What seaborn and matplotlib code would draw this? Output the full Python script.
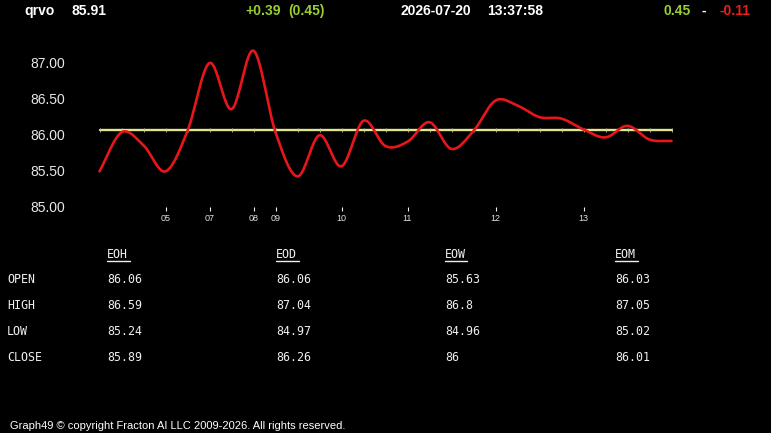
import numpy as np
import pandas as pd
import matplotlib
matplotlib.use("Agg")
import matplotlib.pyplot as plt
from matplotlib.lines import Line2D
import seaborn as sns

# ---------------- data ----------------
symbol = "qrvo"
last_price = "85.91"
change_abs = "+0.39"
change_pct = "(0.45)"
date_str = "2026-07-20"
time_str = "13:37:58"
range_hi = "0.45"
range_lo = "-0.11"

prices = [85.49, 86.03, 85.85, 85.49, 86.05, 86.99, 86.35, 87.16, 86.03,
          85.42, 85.99, 85.56, 86.19, 85.84, 85.90, 86.17, 85.80, 86.05,
          86.47, 86.40, 86.24, 86.22, 86.07, 85.96, 86.12, 85.93, 85.91]
ref_level = 86.06
hour_tick_idx = [3, 5, 7, 8, 11, 14, 18, 22]
hour_labels = ["05", "07", "08", "09", "10", "11", "12", "13"]
y_ticks = [85.0, 85.5, 86.0, 86.5, 87.0]
y_tick_labels = ["85.00", "85.50", "86.00", "86.50", "87.00"]

table_cols = ["EOH", "EOD", "EOW", "EOM"]
table_rows = ["OPEN", "HIGH", "LOW", "CLOSE"]
eoh = ["86.06", "86.59", "85.24", "85.89"]
eod = ["86.06", "87.04", "84.97", "86.26"]
eow = ["85.63", "86.8", "84.96", "86"]
eom = ["86.03", "87.05", "85.02", "86.01"]
footer = "Graph49 \u00a9 copyright Fracton AI LLC 2009-2026. All rights reserved."

# ---------------- style ----------------
sns.set_theme(style="dark", rc={"axes.facecolor": "black",
                                "figure.facecolor": "black",
                                "axes.grid": False})
plt.rcParams["font.family"] = ["Liberation Sans", "DejaVu Sans"]

W, H = 771, 433
fig = plt.figure(figsize=(W / 100, H / 100), dpi=100)


def px(x, y):
    return x / W, 1 - y / H


ax = fig.add_axes([99.5 / W, 1 - 206.7 / H, 572 / W, 144.4 / H])
ax.set_facecolor("black")

# smooth (Catmull-Rom) rendering of the price series
p = np.asarray(prices, dtype=float)
n = len(p)
idx = np.arange(n)
tang = np.empty(n)
tang[1:-1] = (p[2:] - p[:-2]) / 2
tang[0] = p[1] - p[0]
tang[-1] = p[-1] - p[-2]
xs, ys = [], []
for i in range(n - 1):
    t = np.linspace(0, 1, 25, endpoint=(i == n - 2))
    h00 = 2 * t**3 - 3 * t**2 + 1
    h10 = t**3 - 2 * t**2 + t
    h01 = -2 * t**3 + 3 * t**2
    h11 = t**3 - t**2
    xs.append(i + t)
    ys.append(h00 * p[i] + h10 * tang[i] + h01 * p[i + 1] + h11 * tang[i + 1])
smooth = pd.DataFrame({"x": np.concatenate(xs), "y": np.concatenate(ys)})
ref = pd.DataFrame({"x": idx, "y": [ref_level] * n})

sns.lineplot(data=ref, x="x", y="y", ax=ax, color="#dfe68f", linewidth=1.7,
             zorder=2)
sns.scatterplot(data=ref, x="x", y="y", ax=ax, marker="|", s=7,
                color="#c4c890", linewidth=0.6, zorder=3)
sns.lineplot(data=smooth, x="x", y="y", ax=ax, color="#e8161b",
             linewidth=1.9, zorder=4, sort=False)
for ln in ax.lines:
    ln.set_clip_on(False)

ax.set_xlim(0, n - 1)
ax.set_ylim(85, 87)
ax.set_xlabel("")
ax.set_ylabel("")
for s in ax.spines.values():
    s.set_visible(False)

ax.set_yticks(y_ticks)
ax.set_yticklabels(y_tick_labels)
ax.tick_params(axis="y", length=0, pad=24.5, labelsize=10, labelcolor="#e8e8e8")
ax.set_xticks(hour_tick_idx)
ax.set_xticklabels(hour_labels)
ax.tick_params(axis="x", length=3.2, width=0.8, color="#f0f0f0", pad=2.2,
               labelsize=6.5, labelcolor="#dde4ec", direction="out",
               bottom=True)

# ---------------- header ----------------
hdr = dict(fontsize=10, fontweight="bold", va="baseline", ha="left",
           family=["Liberation Sans", "DejaVu Sans"])
fig.text(*px(24, 15), symbol, color="white", **hdr)
fig.text(*px(71, 15), last_price, color="white", **hdr)
fig.text(*px(245, 15), change_abs, color="#9acd32", **hdr)
fig.text(*px(288, 15), change_pct, color="#9acd32", **hdr)
fig.text(*px(400, 15), date_str, color="white", **hdr)
fig.text(*px(487, 15), time_str, color="white", **hdr)
fig.text(*px(663, 15), range_hi, color="#9acd32", **hdr)
fig.text(*px(701, 15), "-", color="white", **hdr)
fig.text(*px(720, 15), range_lo, color="#ee1c1c", **hdr)

# ---------------- table ----------------
mono = dict(fontsize=8.4, va="baseline", ha="left", color="#f0f0f0",
            family=["DejaVu Sans Mono"])
col_x = [107, 276, 445, 615]
row_y = [283.3, 309.0, 334.7, 361.3]
cols_vals = [eoh, eod, eow, eom]
for r, ry in zip(table_rows, row_y):
    fig.text(*px(7, ry), r, **mono)
for cx, head, vals in zip(col_x, table_cols, cols_vals):
    fig.text(*px(cx, 258), head, **mono)
    x0, y0 = px(cx, 260.5)
    x1, _ = px(cx + 22.5, 260.5)
    fig.add_artist(Line2D([x0, x1], [y0, y0], color="#f0f0f0", linewidth=1.0,
                          transform=fig.transFigure))
    for v, ry in zip(vals, row_y):
        fig.text(*px(cx, ry), v, **mono)

# ---------------- footer ----------------
fig.text(*px(10, 429), footer, fontsize=8.0, color="white", va="baseline",
         ha="left", family=["Liberation Sans", "DejaVu Sans"])

fig.savefig("out.png", dpi=100, facecolor="black")
